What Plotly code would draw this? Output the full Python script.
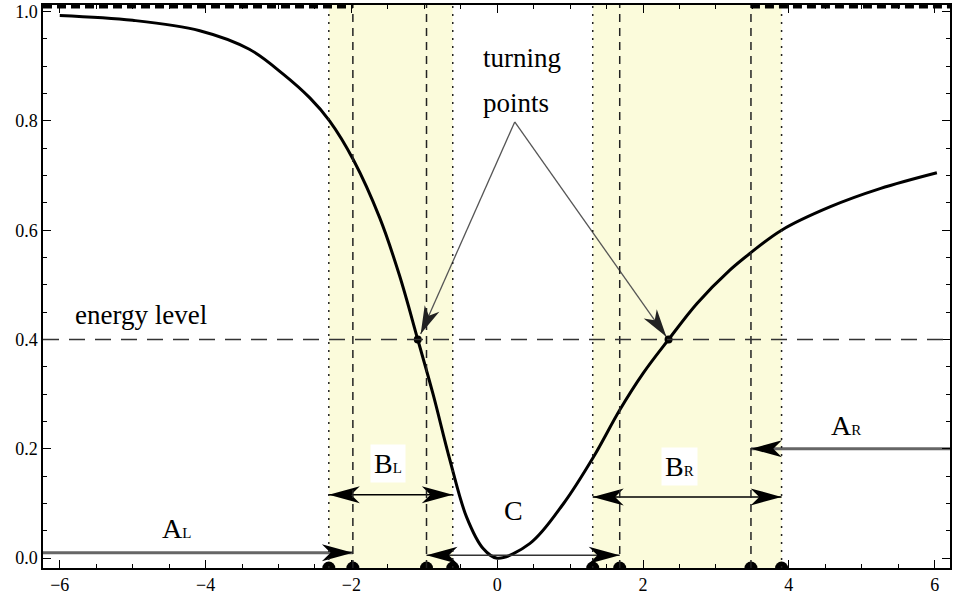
import math
import plotly.graph_objects as go

# potential curve
curve_x = [-6.0, -5.0, -4.08, -3.40, -2.94, -2.57, -2.30, -1.97, -1.61, -1.34, -1.09,
           -0.88, -0.65, -0.42, -0.19, 0.0, 0.45, 0.91, 1.32, 1.68, 2.00, 2.35,
           2.74, 3.19, 3.47, 3.90, 4.57, 5.25, 6.03]
curve_y = [0.993, 0.984, 0.965, 0.931, 0.886, 0.842, 0.800, 0.728, 0.622, 0.517, 0.40,
           0.300, 0.180, 0.075, 0.017, 0.0, 0.027, 0.100, 0.185, 0.271, 0.338, 0.40,
           0.466, 0.527, 0.558, 0.600, 0.643, 0.676, 0.705]

energy = 0.4
turning_x = [-1.09, 2.35]

dotted_x = [-2.31, -0.61, 1.31, 3.90]
dashed_x = [-1.98, -0.97, 1.68, 3.48]

# region arrows
span_start = [-6.23, -2.31, -0.97, 1.31, 6.21]
span_end = [-1.98, -0.61, 1.68, 3.90, 3.48]
span_y = [0.0097, 0.116, 0.0055, 0.112, 0.2]
span_both = [False, True, True, True, False]
span_color = ['#666666', 'black', '#333333', 'black', '#666666']
span_width = [3, 1.5, 1.5, 1.5, 3]

# region labels (letter, subscript)
label_main = ['A', 'B', 'C', 'B', 'A']
label_sub = ['L', 'L', '', 'R', 'R']
label_x = [-4.4, -1.5, 0.22, 2.5, 4.79]
label_y = [0.055, 0.174, 0.088, 0.167, 0.243]
label_box = [False, True, False, True, False]

# turning point call-out
callout_apex = (0.24, 0.798)
callout_tips = [(-1.05, 0.41), (2.32, 0.405)]

X_RANGE = [-6.23, 6.21]
Y_RANGE = [-0.018, 1.012]
W, H = 953, 602
M = dict(l=43, r=3, t=5, b=34)
PX_X = (W - M['l'] - M['r']) / (X_RANGE[1] - X_RANGE[0])
PX_Y = (H - M['t'] - M['b']) / (Y_RANGE[1] - Y_RANGE[0])

FONT = 'Liberation Serif, Times New Roman, serif'


def head_polygon(tip, frm, length=31, half_w=8.5):
    """Notched arrow head polygon in data coords, sized in pixels."""
    dx = (tip[0] - frm[0]) * PX_X
    dy = (tip[1] - frm[1]) * PX_Y
    n = math.hypot(dx, dy)
    ux, uy = dx / n, dy / n
    px, py = -uy, ux
    pts = [(0, 0),
           (-length * ux + half_w * px, -length * uy + half_w * py),
           (-0.72 * length * ux, -0.72 * length * uy),
           (-length * ux - half_w * px, -length * uy - half_w * py),
           (0, 0)]
    xs = [tip[0] + a / PX_X for a, b in pts]
    ys = [tip[1] + b / PX_Y for a, b in pts]
    return xs, ys


def add_head(fig, tip, frm, color='black', length=31, half_w=8.5):
    xs, ys = head_polygon(tip, frm, length, half_w)
    fig.add_trace(go.Scatter(x=xs, y=ys, mode='lines', fill='toself',
                             fillcolor=color, line=dict(width=0, color=color),
                             hoverinfo='skip', showlegend=False))


fig = go.Figure()

# yellow bands
for x0, x1 in [(dotted_x[0], dotted_x[1]), (dotted_x[2], dotted_x[3])]:
    fig.add_shape(type='rect', xref='x', yref='paper', x0=x0, x1=x1, y0=0, y1=1,
                  fillcolor='#fbfbdb', line=dict(width=0), layer='below')

for xv in dotted_x:
    fig.add_shape(type='line', xref='x', yref='paper', x0=xv, x1=xv, y0=0, y1=1,
                  line=dict(color='#222222', width=1.5, dash='2px,6px'))
for xv in dashed_x:
    fig.add_shape(type='line', xref='x', yref='paper', x0=xv, x1=xv, y0=0, y1=1,
                  line=dict(color='#222222', width=1.5, dash='8px,6px'))

# thick dashes along the top frame outside the dashed lines
for x0, x1 in [(X_RANGE[0], dashed_x[0]), (dashed_x[3], X_RANGE[1])]:
    fig.add_shape(type='line', xref='x', yref='paper', x0=x0, x1=x1, y0=0.997, y1=0.997,
                  line=dict(color='black', width=3.5, dash='9px,5px'))

# energy level
fig.add_shape(type='line', xref='paper', yref='y', x0=0, x1=1, y0=energy, y1=energy,
              line=dict(color='#333333', width=1.6, dash='16px,10px'))

# potential
fig.add_trace(go.Scatter(x=curve_x, y=curve_y, mode='lines',
                         line=dict(color='black', width=3, shape='spline', smoothing=1.0),
                         hoverinfo='skip', showlegend=False))

# region arrows
for x0, x1, yv, both, col, lw in zip(span_start, span_end, span_y, span_both,
                                      span_color, span_width):
    fig.add_trace(go.Scatter(x=[x0, x1], y=[yv, yv], mode='lines',
                             line=dict(color=col, width=lw),
                             hoverinfo='skip', showlegend=False))
    add_head(fig, (x1, yv), (x0, yv))
    if both:
        add_head(fig, (x0, yv), (x1, yv))

# turning point call-out lines
for tip in callout_tips:
    fig.add_trace(go.Scatter(x=[callout_apex[0], tip[0]], y=[callout_apex[1], tip[1]],
                             mode='lines', line=dict(color='#555555', width=1.3),
                             hoverinfo='skip', showlegend=False))
    add_head(fig, tip, callout_apex, color='#222222', length=28, half_w=8)

# turning points
fig.add_trace(go.Scatter(x=turning_x, y=[energy] * len(turning_x), mode='markers',
                         marker=dict(color='black', size=8),
                         hoverinfo='skip', showlegend=False))

# band boundaries marked on the x axis (half-clipped dots)
fig.add_trace(go.Scatter(x=sorted(dotted_x + dashed_x), y=[Y_RANGE[0]] * 8,
                         mode='markers', marker=dict(color='black', size=13),
                         cliponaxis=True, hoverinfo='skip', showlegend=False))

# labels
for m, s, xv, yv, box in zip(label_main, label_sub, label_x, label_y, label_box):
    txt = m + (f"<span style='font-size:15px'>{s}</span>" if s else '')
    fig.add_annotation(x=xv, y=yv, text=txt, showarrow=False,
                       font=dict(family=FONT, size=28, color='black'),
                       bgcolor='white' if box else None, borderpad=3)

fig.add_annotation(x=-5.82, y=0.445, text='energy level', showarrow=False,
                   xanchor='left', font=dict(family=FONT, size=27, color='black'))
fig.add_annotation(x=-0.22, y=0.915, text='turning', showarrow=False,
                   xanchor='left', font=dict(family=FONT, size=27, color='black'))
fig.add_annotation(x=-0.22, y=0.832, text='points', showarrow=False,
                   xanchor='left', font=dict(family=FONT, size=27, color='black'))

axis_common = dict(showgrid=False, zeroline=False, showline=True, linecolor='black',
                   linewidth=1.5, mirror='ticks', ticks='inside', ticklen=8,
                   tickwidth=1, tickcolor='black', automargin=False,
                   tickfont=dict(family=FONT, size=18, color='black'))

fig.update_layout(
    width=W, height=H,
    margin=M,
    plot_bgcolor='white', paper_bgcolor='white',
    xaxis=dict(range=X_RANGE, dtick=2, tick0=0,
               minor=dict(dtick=0.5, ticks='inside', ticklen=4, tickcolor='black'),
               **axis_common),
    yaxis=dict(range=Y_RANGE, dtick=0.2, tick0=0, tickformat='.1f',
               minor=dict(dtick=0.05, ticks='inside', ticklen=4, tickcolor='black'),
               **axis_common),
    showlegend=False,
)

# drop the default page margin so the figure sits at the window corner
fig.write_html("out.html", config={'displayModeBar': False},
               post_script="document.body.style.margin='0';")
